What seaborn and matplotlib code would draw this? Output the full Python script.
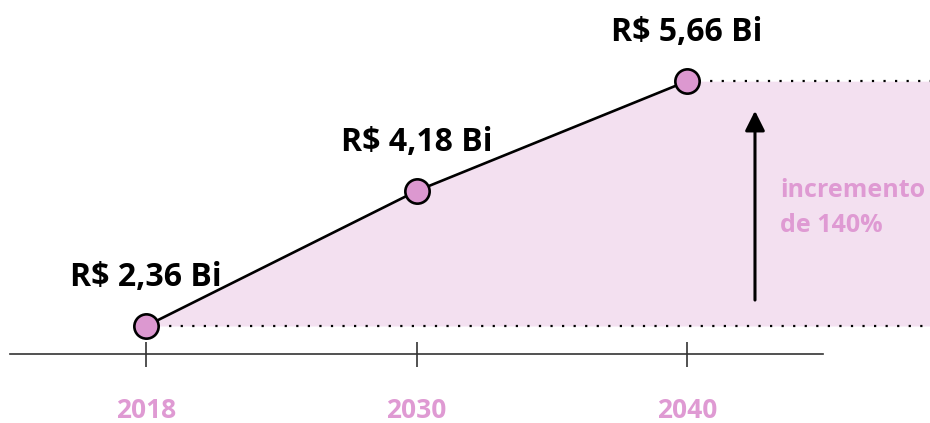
import numpy as np
import pandas as pd
import matplotlib
matplotlib.use('Agg')
import matplotlib.pyplot as plt
import seaborn as sns

# data
years = ['2018', '2030', '2040']
values = [2.36, 4.18, 5.66]
value_labels = ['R$ 2,36 Bi', 'R$ 4,18 Bi', 'R$ 5,66 Bi']

PINK = '#dc98d0'
PINK_FILL = '#f3e0f0'
TEXT_PINK = '#df9ad3'

sns.set_theme(style='white')
plt.rcParams['font.family'] = ['Open Sans', 'DejaVu Sans']

df = pd.DataFrame({'pos': np.arange(len(years)), 'value': values})

fig = plt.figure(figsize=(9.3, 4.23), dpi=100)
ax = fig.add_axes([0, 0, 1, 1])

x_left, x_right = -0.540, 2.898
ax.set_xlim(x_left, x_right)
ax.set_ylim(1.053, 6.754)

# shaded area between the first value and the line, kept flat after the last point
fill_x = list(df['pos']) + [x_right]
fill_y = list(df['value']) + [values[-1]]
ax.fill_between(fill_x, fill_y, values[0], color=PINK_FILL, lw=0, zorder=1)

# dotted reference lines
ax.hlines(values[0], df['pos'].iloc[0], x_right, colors='black',
          linestyles=(0, (1, 4.2)), lw=1.6, zorder=2)
ax.hlines(values[-1], df['pos'].iloc[-1], x_right, colors='black',
          linestyles=(0, (1, 4.2)), lw=1.6, zorder=2)

sns.lineplot(data=df, x='pos', y='value', ax=ax, color='black', lw=1.9,
             marker='o', markersize=17.5, markerfacecolor=PINK,
             markeredgecolor='black', markeredgewidth=1.9, zorder=4)

for x, y, lab in zip(df['pos'], df['value'], value_labels):
    ax.annotate(lab, (x, y), xytext=(0, 35), textcoords='offset points',
                ha='center', va='center', fontsize=23, fontweight='bold',
                color='black')

# growth arrow + note
arrow_x = 2.251
ax.annotate('', xy=(arrow_x, values[-1] - 0.40), xytext=(arrow_x, values[0] + 0.35),
            arrowprops=dict(arrowstyle='-|>', color='black', lw=2.2,
                            mutation_scale=30, shrinkA=0, shrinkB=0), zorder=3)
pct = round((values[-1] / values[0] - 1) * 100)
ax.text(2.345, 3.95, f'incremento\nde {pct}%', ha='left', va='center',
        fontsize=18, fontweight='bold', color=TEXT_PINK, linespacing=1.5)

# axis
for s in ['top', 'right', 'left']:
    ax.spines[s].set_visible(False)
ax.spines['bottom'].set_position(('data', 1.983))
ax.spines['bottom'].set_bounds(-0.503, 2.503)
ax.spines['bottom'].set_color('#333333')
ax.spines['bottom'].set_linewidth(1.2)
ax.set_xticks(df['pos'])
ax.set_xticklabels(years)
ax.tick_params(axis='x', direction='inout', length=18, width=1.2, color='#333333',
               pad=22, labelsize=19, labelcolor=TEXT_PINK, bottom=True)
for t in ax.get_xticklabels():
    t.set_fontweight('bold')
ax.set_yticks([])
ax.set_xlabel('')
ax.set_ylabel('')
ax.grid(False)

fig.savefig('out.png', dpi=100)
